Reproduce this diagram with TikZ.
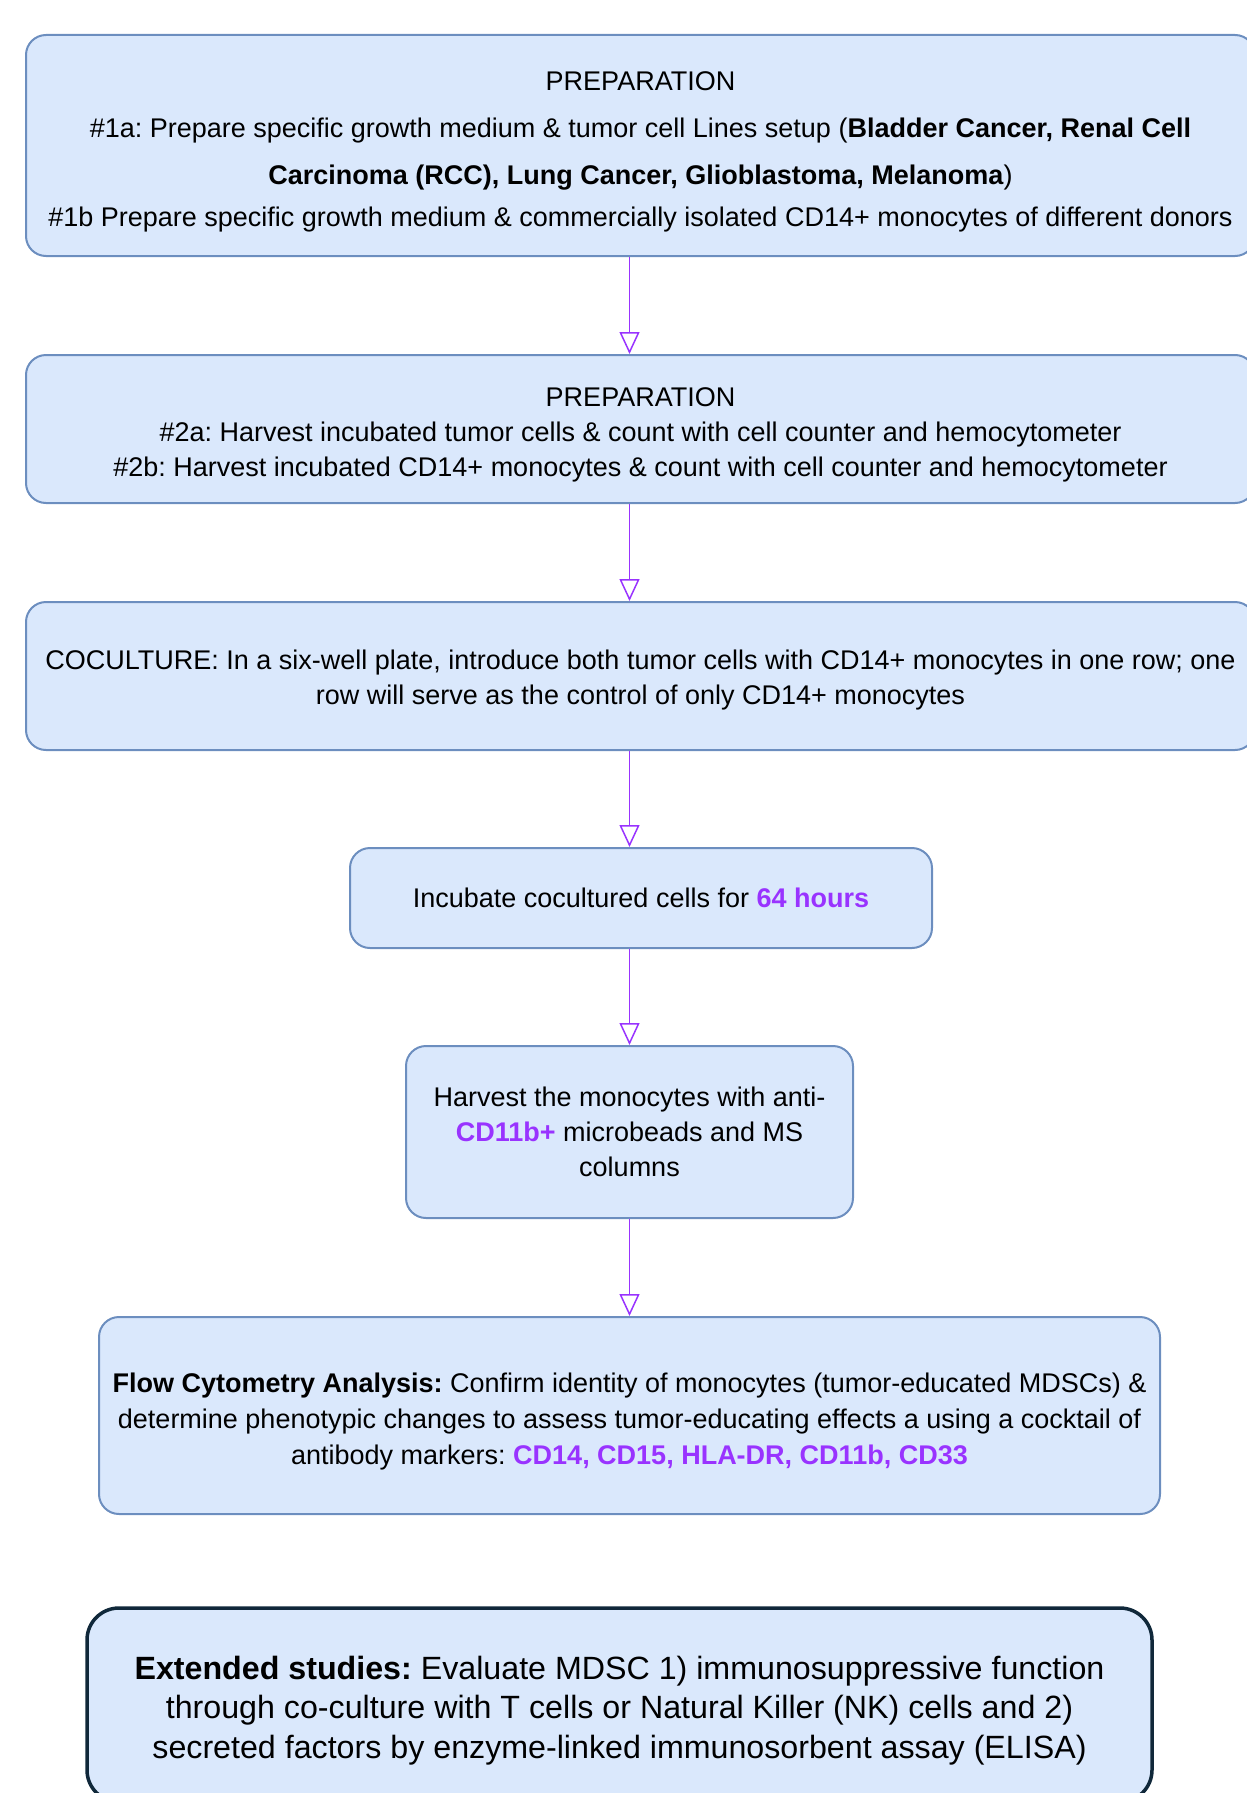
\documentclass[tikz,border=0pt]{standalone}
\usepackage{fontspec}
\setmainfont{Liberation Sans}
\usetikzlibrary{arrows.meta}
\definecolor{boxfill}{HTML}{DAE8FC}
\definecolor{boxline}{HTML}{6C8EBF}
\definecolor{purp}{HTML}{9933FF}
\definecolor{navy}{HTML}{10283A}
\frenchspacing
\newcommand{\topstrut}[1]{\rule{0pt}{#1pt}}
\begin{document}
\begin{tikzpicture}[x=1pt,y=-1pt,
  box/.style={draw=boxline, line width=2pt, fill=boxfill, rounded corners=20pt, align=center, inner sep=0pt, font=\fontsize{27}{35}\selectfont},
  bigbox/.style={draw=navy, line width=3.5pt, fill=boxfill, rounded corners=32pt, align=center, inner sep=0pt, font=\fontsize{32.2}{39.5}\selectfont},
  flow/.style={draw=purp, line width=1.5pt, -{Triangle[open,length=22pt,width=20pt]}}]
\useasboundingbox (0,0) rectangle (1247,1793);
\node[box, minimum width=1229pt, minimum height=221pt] (b1) at (640.5,145.5)
 {\topstrut{31}PREPARATION\\[12pt]
  \#1a: Prepare specific growth medium \& tumor cell Lines setup (\textbf{Bladder Cancer, Renal Cell}\\[12pt]
  \textbf{Carcinoma (RCC), Lung Cancer, Glioblastoma, Melanoma})\\[7pt]
  \#1b Prepare specific growth medium \& commercially isolated CD14+ monocytes of different donors};
\node[box, minimum width=1229pt, minimum height=148pt] (b2) at (640.5,429)
 {\topstrut{29.6}PREPARATION\\
  \#2a: Harvest incubated tumor cells \& count with cell counter and hemocytometer\\
  \#2b: Harvest incubated CD14+ monocytes \& count with cell counter and hemocytometer};
\node[box, minimum width=1229pt, minimum height=148pt] (b3) at (640.5,676)
 {\topstrut{27.7}COCULTURE: In a six-well plate, introduce both tumor cells with CD14+ monocytes in one row; one\\
  row will serve as the control of only CD14+ monocytes};
\node[box, minimum width=582pt, minimum height=100pt] (b4) at (641,898)
 {Incubate cocultured cells for \textcolor{purp}{\textbf{64 hours}}};
\node[box, minimum width=447pt, minimum height=172pt] (b5) at (629.5,1132)
 {Harvest the monocytes with anti-\\
  \textcolor{purp}{\textbf{CD11b+}} microbeads and MS\\
  columns};
\node[box, minimum width=1061pt, minimum height=197pt, font=\fontsize{27}{36}\selectfont] (b6) at (629.5,1415.5)
 {\topstrut{32}\textbf{Flow Cytometry Analysis:} Confirm identity of monocytes (tumor-educated MDSCs) \&\\
  determine phenotypic changes to assess tumor-educating effects a using a cocktail of\\
  antibody markers: \textcolor{purp}{\textbf{CD14, CD15, HLA-DR, CD11b, CD33}}};
\node[bigbox, minimum width=1065pt, minimum height=194pt] (b7) at (619.5,1705)
 {\topstrut{33.7}\textbf{Extended studies:} Evaluate MDSC 1) immunosuppressive function\\
  through co-culture with T cells or Natural Killer (NK) cells and 2)\\
  secreted factors by enzyme-linked immunosorbent assay (ELISA)};
\draw[flow] (b1.south -| b5.center) -- (b2.north -| b5.center);
\draw[flow] (b2.south -| b5.center) -- (b3.north -| b5.center);
\draw[flow] (b3.south -| b5.center) -- (b4.north -| b5.center);
\draw[flow] (b4.south -| b5.center) -- (b5.north);
\draw[flow] (b5.south) -- (b6.north -| b5.center);
\end{tikzpicture}
\end{document}
